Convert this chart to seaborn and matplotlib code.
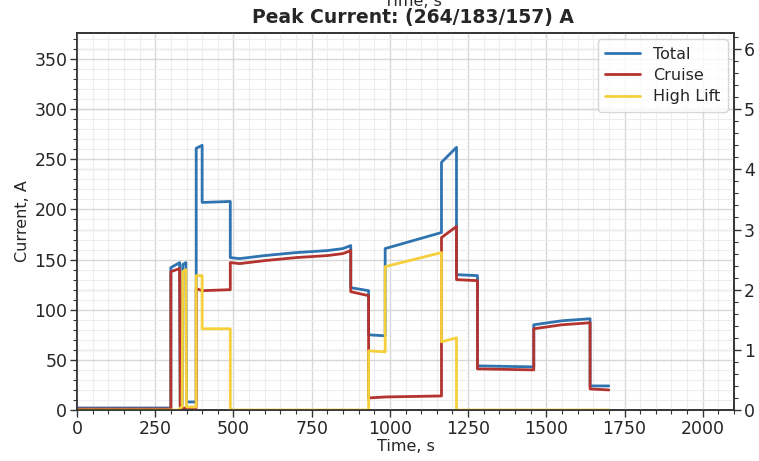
import matplotlib
matplotlib.use("Agg")
import matplotlib.pyplot as plt
import seaborn as sns
import pandas as pd
from matplotlib.ticker import MultipleLocator

time_s = [0, 300, 300, 328, 330, 336, 338, 348, 350, 381, 381, 400, 400, 490, 490,
          520, 600, 700, 800, 850, 875, 875, 932, 932, 985, 985, 1165, 1165, 1213,
          1213, 1280, 1280, 1460, 1460, 1550, 1640, 1640, 1700]
total = [2, 2, 142, 147, 5, 5, 145, 147, 8, 8, 261, 264, 207, 208, 152,
         151, 154, 157, 159, 161, 164, 122, 119, 75, 74, 161, 177, 247, 262,
         135, 134, 44, 43, 85, 89, 91, 24, 24]
cruise = [1, 1, 138, 141, 2, 2, 2, 2, 2, 2, 121, 119, 119, 120, 147,
          146, 149, 152, 154, 156, 159, 118, 114, 12, 13, 13, 14, 172, 183,
          130, 129, 41, 40, 81, 85, 87, 21, 20]
high_lift = [0, 0, 0, 0, 2, 3, 138, 140, 3, 3, 134, 134, 81, 81, 0,
             0, 0, 0, 0, 0, 0, 0, 0, 59, 58, 143, 157, 68, 72,
             0, 0, 0, 0, 0, 0, 0, 0, 0]
series_names = ["Total", "Cruise", "High Lift"]
colors = ["#2f73b0", "#b3332f", "#f5d03b"]
title_text = "Peak Current: (264/183/157) A"

rows = []
for name, vals in zip(series_names, [total, cruise, high_lift]):
    for i, (t, v) in enumerate(zip(time_s, vals)):
        rows.append({"Time": t, "Current": v, "Series": name, "order": i})
df = pd.DataFrame(rows)

sns.set_theme(style="whitegrid")
plt.rcParams["font.family"] = ["DejaVu Sans"]

fig = plt.figure(figsize=(7.59, 4.61), dpi=100)
ax = fig.add_axes([77/759, 1 - 410/461, (734-77)/759, (410-33)/461])

sns.lineplot(data=df, x="Time", y="Current", hue="Series", palette=colors,
             estimator=None, sort=False, units="Series", linewidth=2, ax=ax)

ax.set_xlim(0, 2100)
ax.set_ylim(0, 376)
ax.xaxis.set_major_locator(MultipleLocator(250))
ax.xaxis.set_minor_locator(MultipleLocator(50))
ax.yaxis.set_major_locator(MultipleLocator(50))
ax.yaxis.set_minor_locator(MultipleLocator(10))
ax.grid(which="major", color="#d8d8d8", linewidth=1.0)
ax.grid(which="minor", color="#ededed", linewidth=0.8)
ax.set_axisbelow(True)
ax.tick_params(which="major", direction="out", length=5, width=1, color="#333333",
               labelsize=12.5, bottom=True, left=True, pad=2, labelcolor="#262626")
ax.tick_params(which="minor", direction="out", length=3, width=0.8, color="#333333",
               bottom=True, left=True)
for sp in ax.spines.values():
    sp.set_color("#333333")
    sp.set_linewidth(1.2)
ax.set_xlabel("Time, s", fontsize=11.5, labelpad=1, color="#262626")
ax.set_ylabel("Current, A", fontsize=11.5, labelpad=3, color="#262626")

ax2 = ax.twinx()
ax2.set_ylim(0, 376/60)
ax2.yaxis.set_major_locator(MultipleLocator(1))
ax2.yaxis.set_minor_locator(MultipleLocator(0.2))
ax2.grid(which="major", color="#d8d8d8", linewidth=1.0)
ax2.grid(False, axis="x")
ax2.set_zorder(0)
ax.set_zorder(1)
ax.patch.set_visible(False)
ax2.tick_params(which="major", direction="out", length=5, width=1, color="#333333",
                labelsize=12.5, right=True, pad=2, labelcolor="#262626")
ax2.tick_params(which="minor", direction="out", length=3, width=0.8, color="#333333",
                right=True)
for sp in ax2.spines.values():
    sp.set_color("#333333")
    sp.set_linewidth(1.2)

leg = ax.legend(loc="upper right", fontsize=11.5, frameon=True, handlelength=2.2,
                borderpad=0.45, labelspacing=0.4, handletextpad=0.8,
                borderaxespad=0.4)
leg.get_frame().set_edgecolor("#cccccc")
for line in leg.get_lines():
    line.set_linewidth(2)

fig.text(413/759, 1 - 18/461, title_text, ha="center", va="center",
         fontsize=13.5, fontweight="bold", color="#262626")
fig.text(413/759, 1 - 6/461, "Time, s", ha="center", va="baseline",
         fontsize=11.5, color="#262626")

fig.savefig("out.png", dpi=100)
